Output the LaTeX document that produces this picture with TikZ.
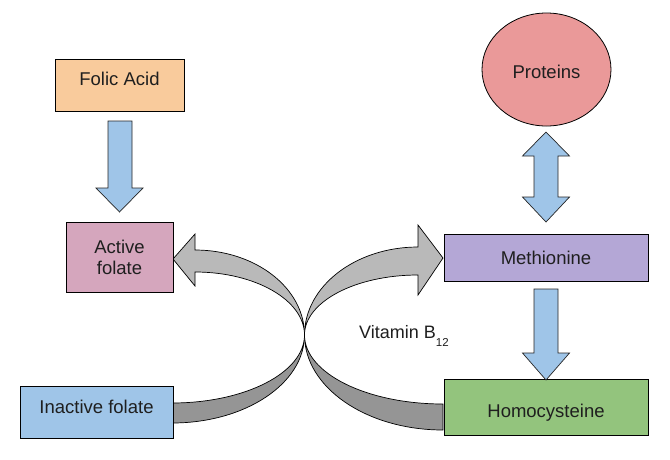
\documentclass[tikz,border=0pt]{standalone}
\usepackage{fontspec}
\setmainfont{Liberation Sans}
\usetikzlibrary{shapes.geometric}
\definecolor{orangebox}{HTML}{F9CB9C}
\definecolor{pinkbox}{HTML}{D5A6BD}
\definecolor{bluebox}{HTML}{9FC5E8}
\definecolor{purplebox}{HTML}{B4A7D6}
\definecolor{greenbox}{HTML}{93C47D}
\definecolor{redbox}{HTML}{EA9999}
\definecolor{bluearrow}{HTML}{9FC5E8}
\definecolor{graylight}{HTML}{B9B9B9}
\definecolor{graydark}{HTML}{959595}
\definecolor{txt}{HTML}{1F1F1F}
\newcommand\myupby[2]{\raisebox{#1}[\height][\depth]{#2}}
\begin{document}
\begin{tikzpicture}[x=1pt,y=1pt,yscale=-1,
  box/.style={draw=black, line width=0.8pt, inner sep=0pt, align=center,
    font=\fontsize{18.5}{21}\selectfont, text=txt},
  blockarrow/.style={fill=bluearrow, draw=black!85, line width=0.7pt, line join=miter},
  curvelight/.style={fill=graylight, draw=black, line width=0.7pt, line join=miter},
  curvedark/.style={fill=graydark, draw=black, line width=0.7pt, line join=miter}]
\useasboundingbox (0,0) rectangle (670,459);
\fill[white] (0,0) rectangle (670,459);

% crossing point of the two curved arrows
\coordinate (X) at (304.5,335);

% Curved arrow: Homocysteine -> Active folate
\draw[curvedark] (X) arc[start angle=180, end angle=90, x radius=138.5, y radius=69]
  -- (443,430) arc[start angle=90, end angle=180, x radius=138.5, y radius=95] -- cycle;
\draw[curvelight] (X) arc[start angle=0, end angle=-90, x radius=109.5, y radius=85]
  -- (195,234) -- (173,259) -- (195,286) -- (195,272)
  arc[start angle=-90, end angle=0, x radius=109.5, y radius=63] -- cycle;

% Curved arrow: Inactive folate -> Methionine
\draw[curvedark] (X) arc[start angle=0, end angle=90, x radius=132.5, y radius=68]
  -- (172,423) arc[start angle=90, end angle=0, x radius=132.5, y radius=88] -- cycle;
\draw[curvelight] (X) arc[start angle=180, end angle=270, x radius=113.5, y radius=88]
  -- (418,225) -- (443,258) -- (418,295) -- (418,275)
  arc[start angle=270, end angle=180, x radius=113.5, y radius=60] -- cycle;

% Nodes
\node[box, fill=orangebox, minimum width=129pt, minimum height=52pt] (folic) at (119.5,85) {\myupby{6pt}{Folic Acid}};
\node[box, fill=pinkbox, minimum width=107pt, minimum height=70pt] (active) at (119.5,257) {Active\\folate};
\node[box, fill=bluebox, minimum width=153pt, minimum height=52pt] (inactive) at (96.5,412) {\myupby{5pt}{Inactive folate}};
\node[box, fill=purplebox, minimum width=204pt, minimum height=47pt] (meth) at (546,257.5) {Methionine};
\node[box, fill=greenbox, minimum width=204pt, minimum height=56pt] (homo) at (546,407) {\myupby{-6pt}{Homocysteine}};
\node[box, ellipse, fill=redbox, minimum width=129pt, minimum height=113pt] (prot) at (546.5,69.5) {\myupby{-2.5pt}{Proteins}};

% Block arrows
\draw[blockarrow] (108,121) -- (132,121) -- (132,188) -- (143,188) -- (119.5,212)
  -- (96,188) -- (108,188) -- cycle;
\draw[blockarrow] (546,132) -- (569.5,156) -- (558,156) -- (558,197) -- (569.5,197)
  -- (546,222) -- (522.5,197) -- (534,197) -- (534,156) -- (522.5,156) -- cycle;
\draw[blockarrow] (534,289) -- (558,289) -- (558,353) -- (569.5,353) -- (546,380)
  -- (522.5,353) -- (534,353) -- cycle;

% Label
\node[anchor=base west, inner sep=0pt, font=\fontsize{18}{21}\selectfont, text=txt] (vit)
  at (359,338) {Vitamin B\raisebox{-8.5pt}{\fontsize{11.5}{13}\selectfont 12}};
\end{tikzpicture}
\end{document}
